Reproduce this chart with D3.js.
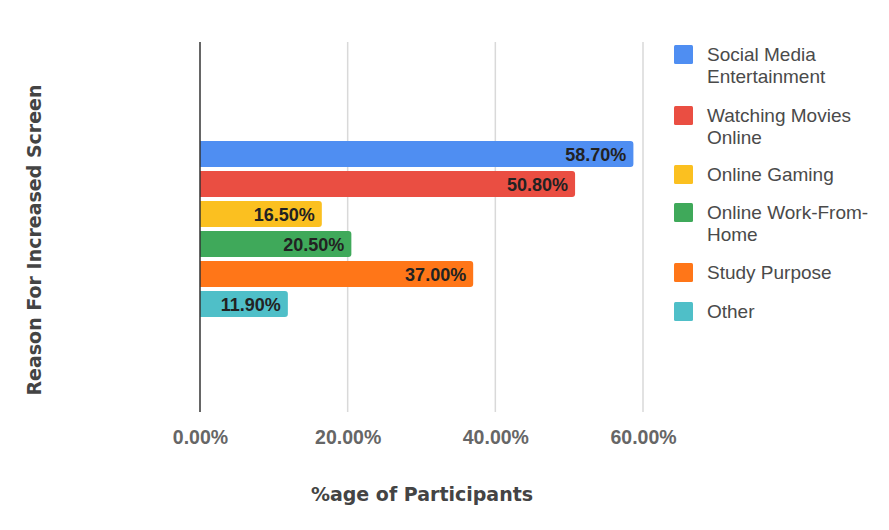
<!DOCTYPE html>
<html><head><meta charset="utf-8">
<script src="https://cdn.jsdelivr.net/npm/d3@7"></script>
<style>body{margin:0;background:#fff;}svg{display:block;font-family:"DejaVu Sans",Verdana,sans-serif;}</style>
</head><body>
<svg id="c" width="889" height="530"></svg>
<script>
const categories = ["Social Media Entertainment","Watching Movies Online","Online Gaming","Online Work-From-Home","Study Purpose","Other"];
const values = [58.7, 50.8, 16.5, 20.5, 37.0, 11.9];
const legendLines = [["Social Media","Entertainment"],["Watching Movies","Online"],["Online Gaming"],["Online Work-From-","Home"],["Study Purpose"],["Other"]];
const xTicks = [0, 20, 40, 60];
const colors = ["#4f8ef2","#ea4e42","#fbc020","#3fa95a","#ff7618","#4fbfc8"];

const svg = d3.select("#c");
const pLeft = 200, pRight = 643, pTop = 42, pBottom = 412;
const x = d3.scaleLinear().domain([0, 60]).range([pLeft, pRight]);
const y = d3.scaleBand().domain(categories).range([139, 319]).paddingInner(4/30).paddingOuter(2/30);
const arial = "'Liberation Sans',Arial,sans-serif";

// gridlines
svg.append("g").selectAll("line").data(xTicks.slice(1)).join("line")
  .attr("x1", d => x(d)).attr("x2", d => x(d)).attr("y1", pTop).attr("y2", pBottom)
  .attr("stroke", "#d9d9d9").attr("stroke-width", 1.5);

// bars
svg.append("g").selectAll("path").data(values).join("path")
  .attr("d", (d, i) => {
    const x0 = x(0), x1 = x(d), y0 = y(categories[i]), h = y.bandwidth(), r = 3;
    return `M${x0},${y0}H${x1 - r}Q${x1},${y0} ${x1},${y0 + r}V${y0 + h - r}Q${x1},${y0 + h} ${x1 - r},${y0 + h}H${x0}Z`;
  })
  .attr("fill", (d, i) => colors[i]);

// labels
svg.append("g").selectAll("text").data(values).join("text")
  .attr("x", d => x(d) - 7).attr("y", (d, i) => y(categories[i]) + y.bandwidth() / 2 + 6.5)
  .attr("text-anchor", "end").attr("font-family", arial).attr("font-size", 18).attr("font-weight", "bold").attr("fill", "#222")
  .text(d => d.toFixed(2) + "%");

// zero axis
svg.append("line").attr("x1", x(0)).attr("x2", x(0)).attr("y1", pTop).attr("y2", pBottom)
  .attr("stroke", "#333").attr("stroke-width", 1.5);

// x axis labels
const ax = svg.append("g").attr("transform", `translate(0,${pBottom})`)
  .call(d3.axisBottom(x).tickValues(xTicks).tickSize(0).tickPadding(18).tickFormat(d => d.toFixed(2) + "%"));
ax.select(".domain").remove();
ax.selectAll("text").attr("font-size", 19.5).attr("font-weight", "bold").attr("fill", "#666").attr("font-family", arial);

// axis titles
svg.append("text").attr("x", 422).attr("y", 501).attr("text-anchor", "middle")
  .attr("font-size", 19).attr("font-weight", "bold").attr("fill", "#444").text("%age of Participants");
svg.append("text").attr("transform", "translate(41,240) rotate(-90)").attr("text-anchor", "middle")
  .attr("font-size", 19).attr("font-weight", "bold").attr("fill", "#444").text("Reason For Increased Screen");

// legend
const legY = [45, 106, 165, 203, 263, 302];
const lg = svg.append("g").selectAll("g").data(categories).join("g")
  .attr("transform", (d, i) => `translate(674,${legY[i]})`);
lg.append("rect").attr("width", 19).attr("height", 19).attr("rx", 1.5).attr("fill", (d, i) => colors[i]);
lg.each(function(d, i) {
  const t = d3.select(this).append("text").attr("x", 33).attr("y", 16).attr("font-family", arial).attr("font-size", 19).attr("fill", "#4a4a4a");
  legendLines[i].forEach((ln, j) => t.append("tspan").attr("x", 33).attr("dy", j === 0 ? 0 : 22).text(ln));
});
</script>
</body></html>
